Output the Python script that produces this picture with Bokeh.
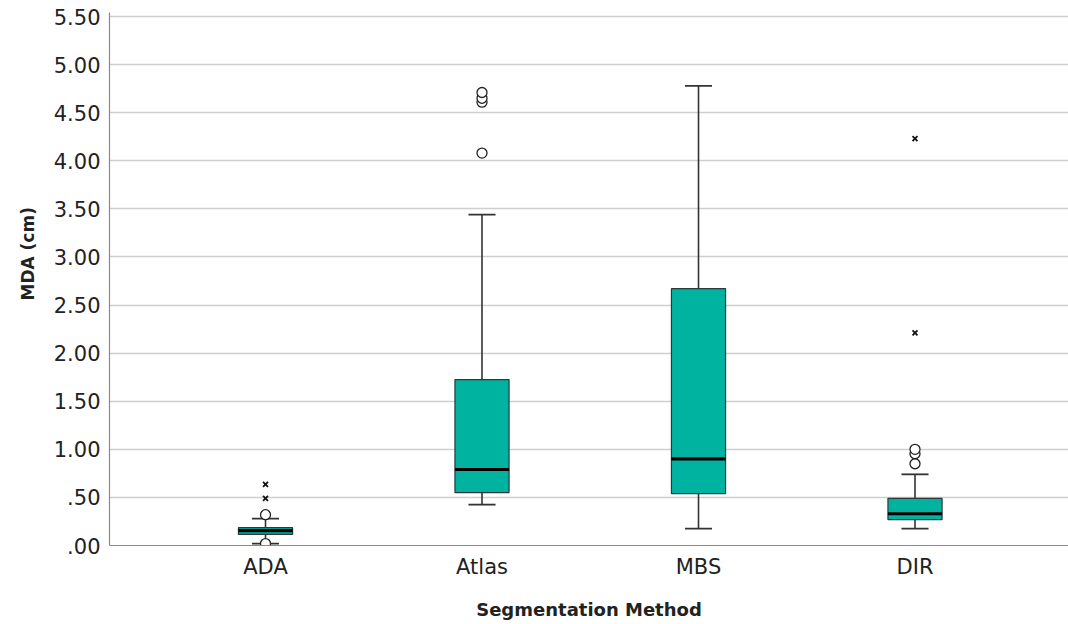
from bokeh.plotting import figure
from bokeh.models import FixedTicker, Title
from bokeh.embed import file_html
from bokeh.resources import INLINE

categories = ["ADA", "Atlas", "MBS", "DIR"]
q1 = [0.115, 0.55, 0.54, 0.27]
median = [0.155, 0.79, 0.90, 0.33]
q3 = [0.185, 1.725, 2.67, 0.49]
whisker_low = [0.02, 0.425, 0.175, 0.175]
whisker_high = [0.28, 3.44, 4.78, 0.74]
# outliers (circles) and extremes (crosses)
circle_cat = [1, 1, 2, 2, 2, 2, 4, 4, 4]
circle_val = [0.32, 0.02, 4.08, 4.61, 4.65, 4.71, 0.85, 0.955, 1.0]
cross_cat = [1, 1, 4, 4]
cross_val = [0.49, 0.635, 2.21, 4.23]
y_ticks = [0, 0.5, 1, 1.5, 2, 2.5, 3, 3.5, 4, 4.5, 5, 5.5]
y_tick_labels = [".00", ".50", "1.00", "1.50", "2.00", "2.50", "3.00", "3.50", "4.00", "4.50", "5.00", "5.50"]

FONT = "DejaVu Sans"
xs = list(range(1, len(categories) + 1))

p = figure(width=1068, height=624, output_backend="svg", toolbar_location=None,
           x_range=(0.2794, 4.709), y_range=(0, 5.542),
           min_border_left=109, min_border_right=0, min_border_top=12, min_border_bottom=79)
p.outline_line_color = None
p.background_fill_color = "white"
p.border_fill_color = "white"

p.xgrid.visible = False
p.ygrid.grid_line_color = "#cfcfcf"
p.ygrid.grid_line_width = 1.6

p.yaxis.ticker = FixedTicker(ticks=y_ticks)
p.yaxis.major_label_overrides = {t: l for t, l in zip(y_ticks, y_tick_labels)}
p.xaxis.ticker = FixedTicker(ticks=xs)
p.xaxis.major_label_overrides = {x: c for x, c in zip(xs, categories)}

for ax in (p.xaxis, p.yaxis):
    ax.major_tick_line_color = None
    ax.minor_tick_line_color = None
    ax.major_tick_out = 0
    ax.major_tick_in = 0
    ax.minor_tick_out = 0
    ax.minor_tick_in = 0
    ax.axis_line_color = "#8a8a8a"
    ax.axis_line_width = 1.2
    ax.major_label_text_font = FONT
    ax.major_label_text_font_size = "21px"
    ax.major_label_text_color = "#222222"
    ax.axis_label_text_font = FONT
    ax.axis_label_text_font_style = "bold"
    ax.axis_label_text_color = "#222222"

p.yaxis.major_label_standoff = 9
p.xaxis.major_label_standoff = 9
p.xaxis.axis_label = "Segmentation Method"
p.xaxis.axis_label_text_font_size = "18px"
p.xaxis.axis_label_standoff = 17

ytitle = Title(text="MDA (cm)", align="left", offset=245, standoff=26, vertical_align="bottom",
               text_font=FONT, text_font_style="bold", text_font_size="17px", text_color="#222222")
p.add_layout(ytitle, "left")

box_w = 0.25
cap_w = 0.125
line_col = "#333333"

# whiskers
p.segment(x0=xs, y0=q3, x1=xs, y1=whisker_high, line_color=line_col, line_width=1.6)
p.segment(x0=xs, y0=q1, x1=xs, y1=whisker_low, line_color=line_col, line_width=1.6)
p.segment(x0=[x - cap_w / 2 for x in xs], y0=whisker_high, x1=[x + cap_w / 2 for x in xs], y1=whisker_high,
          line_color=line_col, line_width=1.8)
p.segment(x0=[x - cap_w / 2 for x in xs], y0=whisker_low, x1=[x + cap_w / 2 for x in xs], y1=whisker_low,
          line_color=line_col, line_width=1.8)
# boxes
p.vbar(x=xs, width=box_w, bottom=q1, top=q3, fill_color="#00b3a0", line_color="#2a3a38", line_width=1.2)
# medians
p.segment(x0=[x - box_w / 2 for x in xs], y0=median, x1=[x + box_w / 2 for x in xs], y1=median,
          line_color="black", line_width=3.2)

# outliers
p.scatter(x=circle_cat, y=circle_val, marker="circle", size=10, fill_color="white",
          line_color="#222222", line_width=1.3)
p.scatter(x=cross_cat, y=cross_val, marker="x", size=7, line_color="#111111", line_width=1.8)

open("out.html", "w").write(file_html(p, INLINE))
